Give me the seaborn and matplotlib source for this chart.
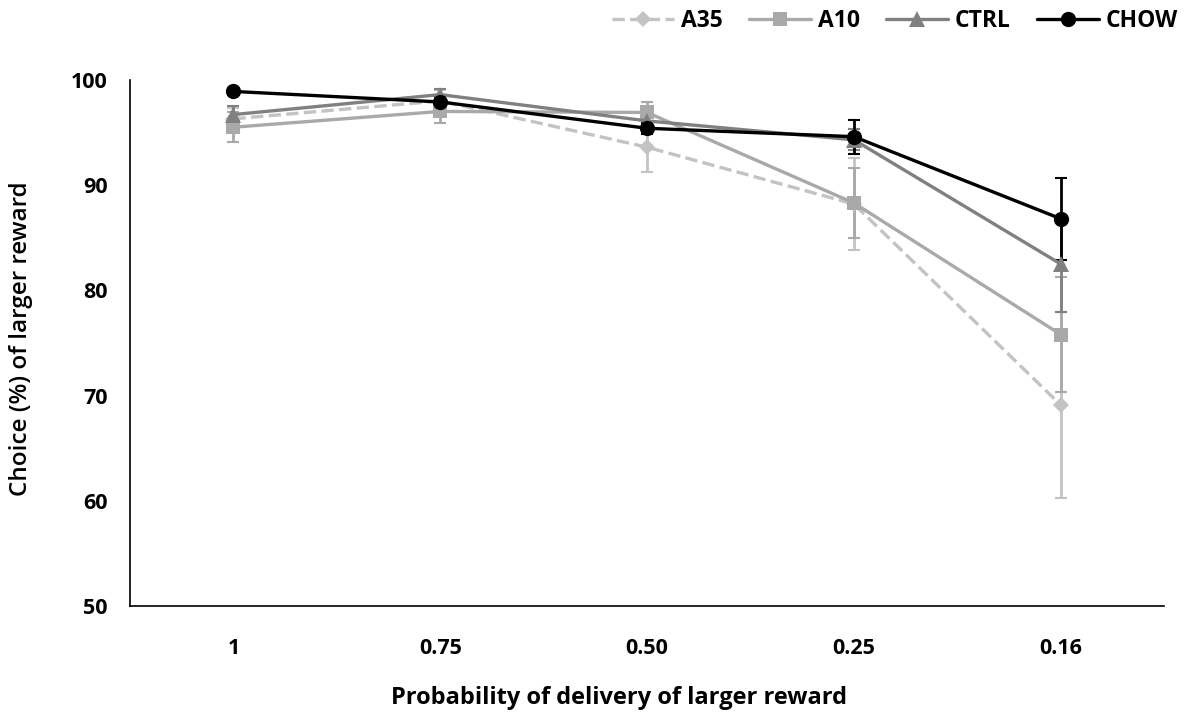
import numpy as np
import pandas as pd
import matplotlib
matplotlib.use("Agg")
import matplotlib.pyplot as plt
import seaborn as sns

# Veriler
olasiliklar = ["1", "0.75", "0.50", "0.25", "0.16"]
gruplar = ["A35", "A10", "CTRL", "CHOW"]

a35 = [96.3, 98.0, 93.6, 88.2, 69.1]
a10 = [95.5, 97.0, 96.9, 88.3, 75.8]
ctrl = [96.7, 98.6, 96.1, 94.3, 82.5]
chow = [98.9, 97.9, 95.4, 94.6, 86.8]

a35_hata = [1.0, 1.0, 2.4, 4.4, 8.8]
a10_hata = [1.4, 1.1, 1.0, 3.3, 5.5]
ctrl_hata = [0.8, 0.5, 0.8, 1.0, 4.6]
chow_hata = [0.3, 0.5, 0.5, 1.6, 3.9]

renkler = {"A35": "#c3c3c3", "A10": "#a9a9a9", "CTRL": "#808080", "CHOW": "#000000"}
isaretler = {"A35": "D", "A10": "s", "CTRL": "^", "CHOW": "o"}
boyutlar = {"A35": 8.5, "A10": 9.5, "CTRL": 11, "CHOW": 11}

degerler = {"A35": a35, "A10": a10, "CTRL": ctrl, "CHOW": chow}
hatalar = {"A35": a35_hata, "A10": a10_hata, "CTRL": ctrl_hata, "CHOW": chow_hata}

rows = []
for g in gruplar:
    for i, (o, v) in enumerate(zip(olasiliklar, degerler[g])):
        rows.append({"pos": i, "olasilik": o, "grup": g, "deger": v, "hata": hatalar[g][i]})
df = pd.DataFrame(rows)

sns.set_theme(style="white")
plt.rcParams["font.family"] = ["Open Sans", "DejaVu Sans"]
plt.rcParams["text.color"] = "black"
plt.rcParams["axes.labelcolor"] = "black"
plt.rcParams["xtick.color"] = "black"
plt.rcParams["ytick.color"] = "black"

fig = plt.figure(figsize=(11.95, 7.13), dpi=100)
ax = fig.add_axes([0.1088, 0.150, 0.8654, 0.738])

for g in gruplar:
    d = df[df["grup"] == g]
    ax.errorbar(d["pos"], d["deger"], yerr=d["hata"], fmt="none",
                ecolor=renkler[g], elinewidth=2, capsize=4, capthick=1.5, zorder=2)
    sns.lineplot(data=d, x="pos", y="deger", ax=ax, color=renkler[g],
                 marker=isaretler[g], markersize=boyutlar[g], markeredgewidth=0,
                 linewidth=2.4, linestyle="--" if g == "A35" else "-",
                 label=g, zorder=3)

ax.set_xlim(-0.5, 4.5)
ax.set_ylim(50, 100)
ax.set_xticks(range(len(olasiliklar)))
ax.set_xticklabels(olasiliklar)
ax.set_yticks([50, 60, 70, 80, 90, 100])
ax.tick_params(axis="x", length=0, pad=23, labelsize=15.5)
ax.tick_params(axis="y", length=0, pad=16, labelsize=15.5)
for t in ax.get_xticklabels() + ax.get_yticklabels():
    t.set_fontweight("bold")

for s in ["top", "right"]:
    ax.spines[s].set_visible(False)
for s in ["left", "bottom"]:
    ax.spines[s].set_color("#000000")
    ax.spines[s].set_linewidth(1.2)

ax.set_xlabel("Probability of delivery of larger reward", fontsize=17,
              fontweight="bold")
ax.xaxis.set_label_coords(0.473, -0.152)
ax.set_ylabel("Choice (%) of larger reward", fontsize=17.5,
              fontweight="semibold")
ax.yaxis.set_label_coords(-0.094, 0.508)

ax.get_legend().remove()
handles, labels = ax.get_legend_handles_labels()
leg = fig.legend(handles, labels, loc="center right",
                 bbox_to_anchor=(1178 / 1195, 1 - 21 / 713), ncol=4,
                 frameon=False, fontsize=16.5, handlelength=2.7,
                 handletextpad=0.3, columnspacing=1.15,
                 borderpad=0, borderaxespad=0)
for t in leg.get_texts():
    t.set_fontweight("bold")

fig.savefig("out.png", dpi=100)
